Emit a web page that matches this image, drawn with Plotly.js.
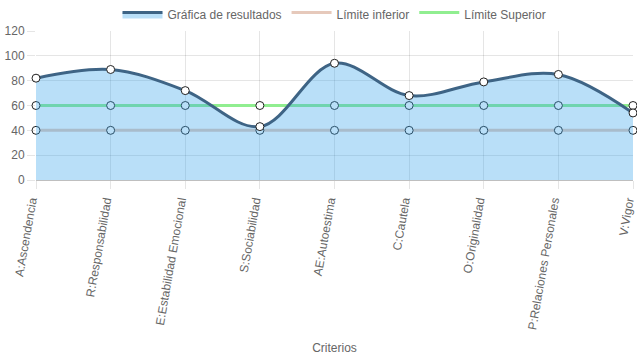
<!DOCTYPE html>
<html>
<head>
<meta charset="utf-8">
<script src="https://cdn.plot.ly/plotly-3.0.1.min.js"></script>
<style>html,body{margin:0;padding:0;background:#fff;}#chart{width:637px;height:359px;}</style>
</head>
<body>
<div id="chart"></div>
<script>
var categories = ["A:Ascendencia", "R:Responsabilidad", "E:Estabilidad Emocional", "S:Sociabilidad", "AE:Autoestima", "C:Cautela", "O:Originalidad", "P:Relaciones Personales", "V:Vigor"];
var resultados = [82, 89, 72, 43, 94, 68, 79, 85, 54];
var limiteInferior = [40, 40, 40, 40, 40, 40, 40, 40, 40];
var limiteSuperior = [60, 60, 60, 60, 60, 60, 60, 60, 60];
var yTicks = [0, 20, 40, 60, 80, 100, 120];
var seriesNames = ['Gráfica de resultados', 'Límite inferior', 'Límite Superior'];

var markerStyle = {size: 8, color: '#ffffff', line: {color: '#222222', width: 1}};
var colResult = '#3e6485', fillResult = 'rgba(54,162,235,0.35)';
var colInf = '#e6c9bb', colSup = '#90ee90';

var traces = [
  {
    x: categories, y: limiteInferior, name: seriesNames[1], type: 'scatter', mode: 'lines+markers',
    line: {color: colInf, width: 3, shape: 'spline', smoothing: 1},
    marker: markerStyle, cliponaxis: false, showlegend: false
  },
  {
    x: categories, y: limiteSuperior, name: seriesNames[2], type: 'scatter', mode: 'lines+markers',
    line: {color: colSup, width: 3, shape: 'spline', smoothing: 1},
    marker: markerStyle, cliponaxis: false, showlegend: false
  },
  {
    x: categories, y: resultados, name: seriesNames[0], type: 'scatter', mode: 'lines+markers',
    fill: 'tozeroy', fillcolor: fillResult,
    line: {color: colResult, width: 3, shape: 'spline', smoothing: 1},
    marker: markerStyle, cliponaxis: false, showlegend: false
  },
  // legend entries (box symbols like the reference)
  {x: [null], y: [null], name: seriesNames[0], type: 'scatter', mode: 'lines', fill: 'toself',
   fillcolor: fillResult, line: {color: colResult, width: 3}, legendrank: 1},
  {x: [null], y: [null], name: seriesNames[1], type: 'scatter', mode: 'lines', fill: 'toself',
   fillcolor: 'rgba(255,255,255,0)', line: {color: colInf, width: 3}, legendrank: 2},
  {x: [null], y: [null], name: seriesNames[2], type: 'scatter', mode: 'lines', fill: 'toself',
   fillcolor: 'rgba(255,255,255,0)', line: {color: colSup, width: 3}, legendrank: 3}
];

var layout = {
  width: 637, height: 359,
  margin: {l: 36, r: 4, t: 31, b: 179, autoexpand: false},
  paper_bgcolor: '#ffffff', plot_bgcolor: '#ffffff',
  font: {family: 'Liberation Sans, Arial, sans-serif', size: 12, color: '#666666'},
  showlegend: true,
  legend: {orientation: 'h', x: 0.5, xanchor: 'center', y: 1.0, yanchor: 'top', yref: 'container',
           font: {size: 12, color: '#666666'}, itemwidth: 40},
  xaxis: {
    type: 'category', range: [0, 8], automargin: false,
    showgrid: true, gridcolor: 'rgba(0,0,0,0.1)', gridwidth: 1,
    ticks: 'outside', ticklen: 8, tickcolor: 'rgba(0,0,0,0.1)',
    tickangle: -80, tickfont: {size: 12, color: '#666666'}, ticklabelshift: -5,
    showline: false, zeroline: false,
    title: {text: 'Criterios', font: {size: 12, color: '#666666'}, standoff: 13}
  },
  yaxis: {
    range: [0, 120], tickvals: yTicks, automargin: false,
    showgrid: true, gridcolor: 'rgba(0,0,0,0.1)', gridwidth: 1,
    ticks: 'outside', ticklen: 8, tickcolor: 'rgba(0,0,0,0.1)',
    zeroline: true, zerolinecolor: 'rgba(0,0,0,0.25)', zerolinewidth: 1,
    tickfont: {size: 12, color: '#666666'}, showline: false
  },
  hovermode: false
};

Plotly.newPlot('chart', traces, layout, {displayModeBar: false, staticPlot: true});
</script>
</body>
</html>
